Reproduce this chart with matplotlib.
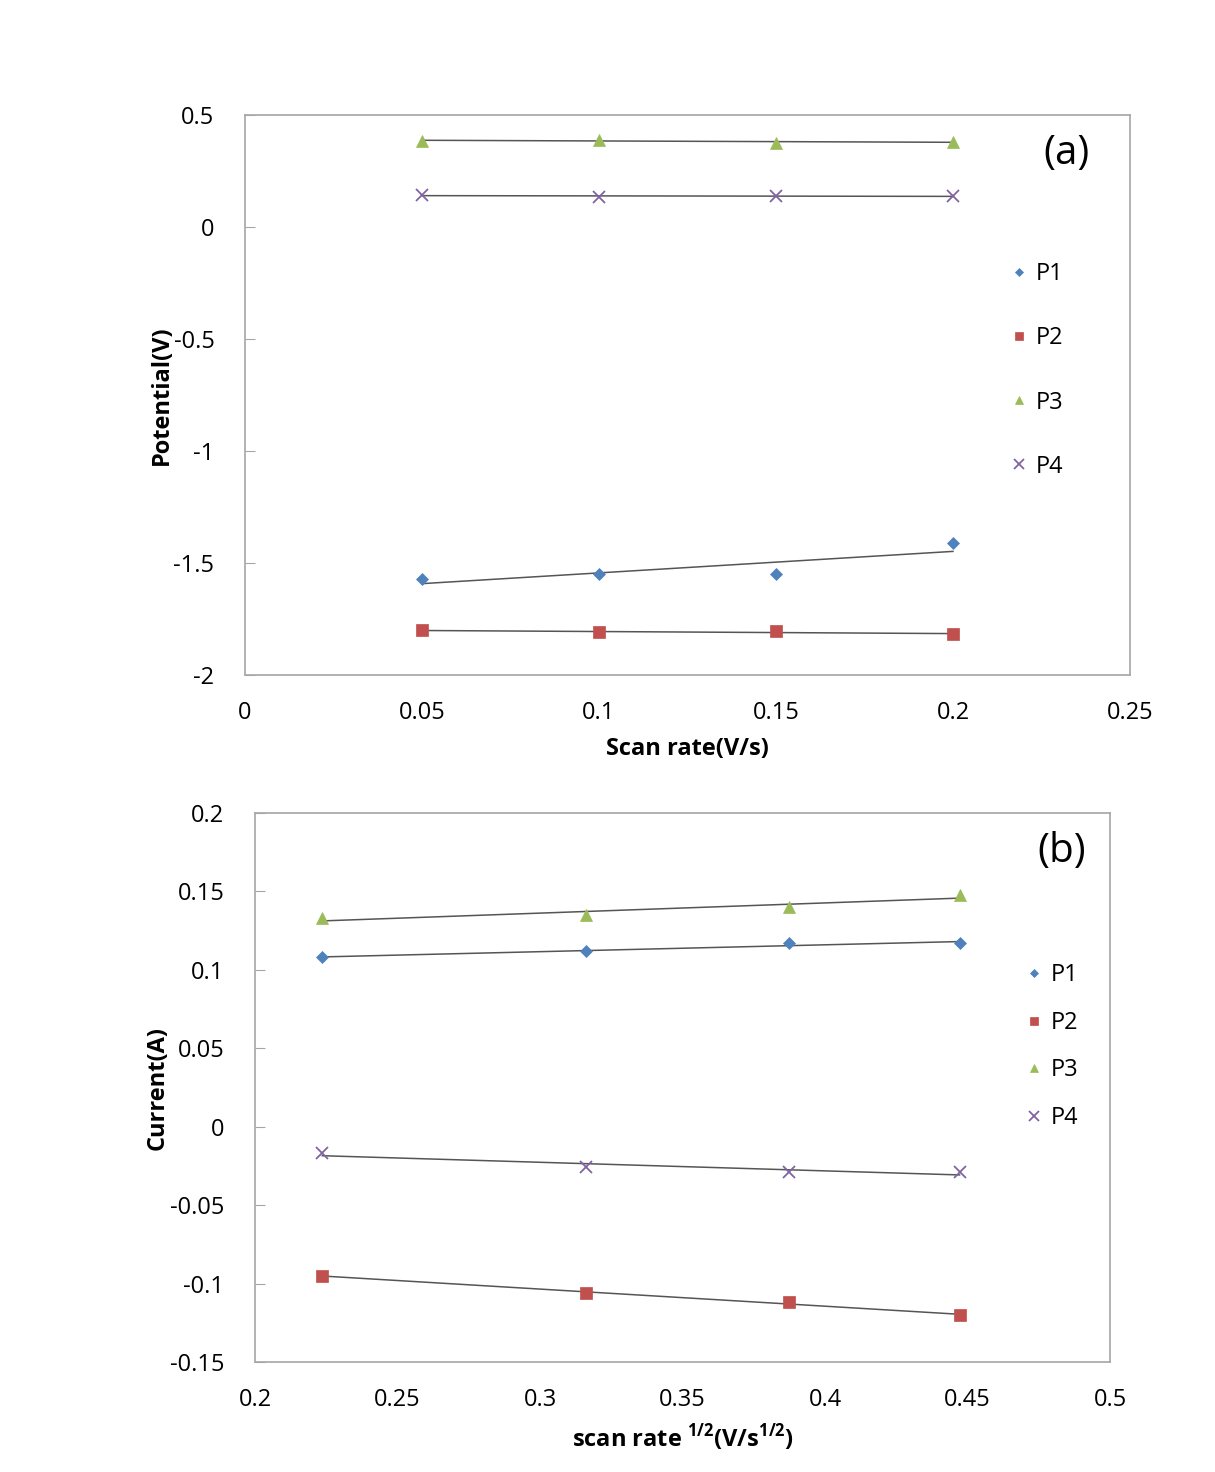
import numpy as np
import matplotlib
matplotlib.use("Agg")
import matplotlib.pyplot as plt

plt.rcParams['font.family'] = ['Open Sans', 'DejaVu Sans']
plt.rcParams['mathtext.fontset'] = 'custom'
plt.rcParams['mathtext.rm'] = 'Open Sans'
plt.rcParams['mathtext.bf'] = 'Open Sans:bold'

# (a) peak potential vs scan rate
scan_rate = [0.05, 0.1, 0.15, 0.2]
pot_p1 = [-1.57, -1.55, -1.55, -1.41]
pot_p2 = [-1.80, -1.81, -1.805, -1.817]
pot_p3 = [0.385, 0.39, 0.375, 0.38]
pot_p4 = [0.143, 0.134, 0.138, 0.138]

# (b) peak current vs sqrt(scan rate)
sqrt_rate = [0.2236, 0.3162, 0.3873, 0.4472]
cur_p1 = [0.108, 0.112, 0.117, 0.117]
cur_p2 = [-0.095, -0.106, -0.112, -0.120]
cur_p3 = [0.133, 0.135, 0.140, 0.148]
cur_p4 = [-0.017, -0.0255, -0.0287, -0.029]

labels = ['P1', 'P2', 'P3', 'P4']
markers = ['D', 's', '^', 'x']
colors = ['#4F81BD', '#C0504D', '#9BBB59', '#8064A2']
sizes = [6, 8, 8, 9]


def draw(ax, x, series, xlim, ylim, xticks, yticks, panel, panel_x, leg_space, leg_x, leg_y):
    x = np.array(x)
    for ys, lab, m, c, s in zip(series, labels, markers, colors, sizes):
        ax.plot(x, ys, linestyle='none', marker=m, color=c, markersize=s,
                markeredgewidth=1.3 if m == 'x' else 0.5, label=lab, zorder=3)
        k, b = np.polyfit(x, ys, 1)
        ax.plot(x, k * x + b, color='#555555', linewidth=1.1, zorder=2)
    ax.set_xlim(*xlim)
    ax.set_ylim(*ylim)
    ax.set_xticks(xticks)
    ax.set_yticks(yticks)
    ax.set_xticklabels([f'{t:g}' for t in xticks])
    ax.set_yticklabels([f'{t:g}' for t in yticks])
    for sp in ax.spines.values():
        sp.set_color('#A6A6A6')
        sp.set_linewidth(1.2)
    ax.tick_params(axis='y', direction='in', length=7, color='#A6A6A6',
                   labelsize=17, pad=22)
    ax.tick_params(axis='x', length=0, labelsize=17, pad=19)
    ax.text(panel_x, 0.93, panel, transform=ax.transAxes, fontsize=29,
            ha='center', va='center')
    ax.legend(loc='upper left', bbox_to_anchor=(leg_x, leg_y), frameon=False,
              fontsize=17, labelspacing=leg_space, handletextpad=0.1,
              handlelength=1.2, markerscale=0.75)


fig = plt.figure(figsize=(12.15, 14.72), dpi=100)

ax1 = fig.add_axes([0.2016, 0.5414, 0.7284, 0.3805])
draw(ax1, scan_rate, [pot_p1, pot_p2, pot_p3, pot_p4],
     (0, 0.25), (-2, 0.5), [0, 0.05, 0.1, 0.15, 0.2, 0.25],
     [-2, -1.5, -1, -0.5, 0, 0.5], '(a)', 0.928, 1.7, 0.835, 0.775)
ax1.set_xlabel('Scan rate(V/s)', fontsize=17, fontweight='bold', labelpad=8)
ax1.set_ylabel('Potential(V)', fontsize=17, fontweight='bold', labelpad=0)

ax2 = fig.add_axes([0.2099, 0.0747, 0.7037, 0.3730])
draw(ax2, sqrt_rate, [cur_p1, cur_p2, cur_p3, cur_p4],
     (0.2, 0.5), (-0.15, 0.2), [0.2, 0.25, 0.3, 0.35, 0.4, 0.45, 0.5],
     [-0.15, -0.1, -0.05, 0, 0.05, 0.1, 0.15, 0.2], '(b)', 0.943, 1.0, 0.87, 0.765)
ax2.set_xlabel(r'scan rate $^{\mathbf{1/2}}$(V/s$^{\mathbf{1/2}}$)',
               fontsize=17, fontweight='bold', labelpad=7)
ax2.set_ylabel('Current(A)', fontsize=17, fontweight='bold', labelpad=0)

fig.savefig('out.png', dpi=100)
